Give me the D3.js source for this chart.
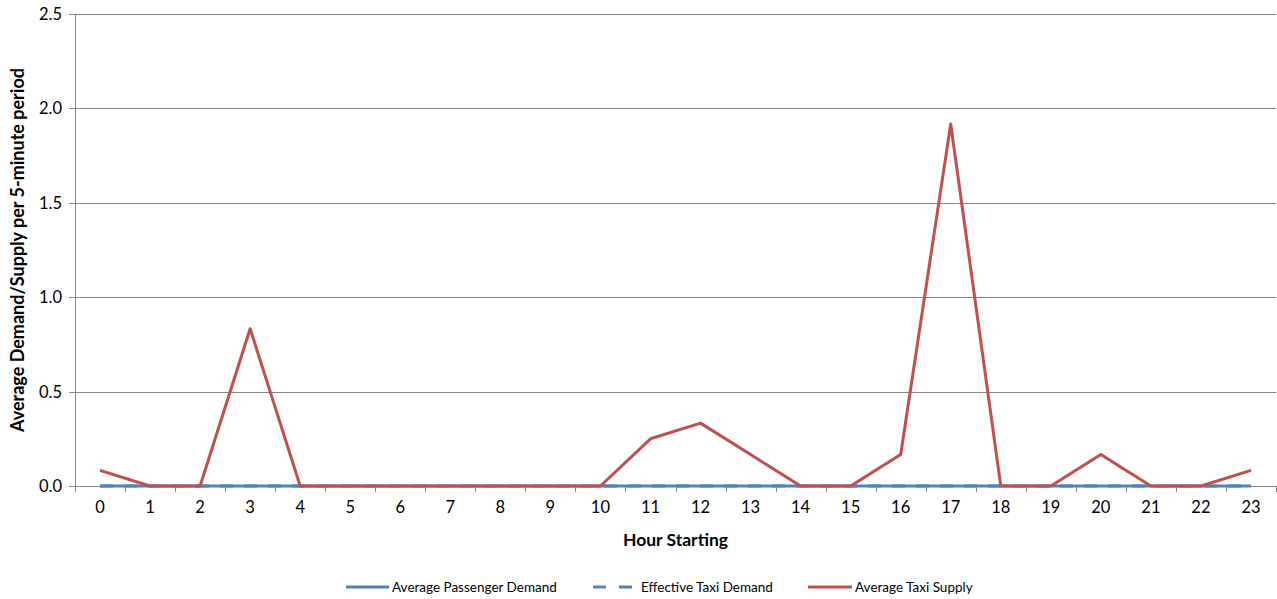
<!DOCTYPE html>
<html><head><meta charset="utf-8">
<script src="https://cdn.jsdelivr.net/npm/d3@7"></script>
<style>body{margin:0;background:#fff;}svg{display:block;font-family:Lato,"Open Sans",sans-serif;}</style>
</head><body><svg id="c" width="1277" height="599"></svg>
<script>
const hours = ["0","1","2","3","4","5","6","7","8","9","10","11","12","13","14","15","16","17","18","19","20","21","22","23"];
const passengerDemand = [0,0,0,0,0,0,0,0,0,0,0,0,0,0,0,0,0,0,0,0,0,0,0,0];
const effectiveDemand = [0,0,0,0,0,0,0,0,0,0,0,0,0,0,0,0,0,0,0,0,0,0,0,0];
const taxiSupply = [0.083,0,0,0.833,0,0,0,0,0,0,0,0.25,0.333,0.167,0,0,0.167,1.917,0,0,0.167,0,0,0.083];
const yTicks = [0,0.5,1.0,1.5,2.0,2.5];
const seriesNames = ["Average Passenger Demand","Effective Taxi Demand","Average Taxi Supply"];

const svg = d3.select("#c");
const L=75, R=1276, T=14, B=486;
const x = d3.scaleBand().domain(hours).range([L,R]);
const y = d3.scaleLinear().domain([0,2.5]).range([B,T]);
const grid="#868686";

// gridlines
svg.append("g").selectAll("line").data(yTicks).join("line")
  .attr("x1",L-6).attr("x2",R).attr("y1",d=>Math.round(y(d))+0.5).attr("y2",d=>Math.round(y(d))+0.5)
  .attr("stroke",grid).attr("stroke-width",1);
// y axis line
svg.append("line").attr("x1",L+0.5).attr("x2",L+0.5).attr("y1",T).attr("y2",B+5).attr("stroke",grid);
// y labels
svg.append("g").selectAll("text").data(yTicks).join("text")
  .attr("x",L-13).attr("y",d=>y(d)).attr("dy","0.36em").attr("text-anchor","end")
  .attr("font-size",16.5).attr("fill","#000").text(d=>d.toFixed(1));
// x ticks at boundaries
const bounds = hours.map(h=>x(h)).concat([R]);
svg.append("g").selectAll("line").data(bounds).join("line")
  .attr("x1",d=>Math.round(d)+0.5).attr("x2",d=>Math.round(d)+0.5).attr("y1",B).attr("y2",B+6)
  .attr("stroke",grid);
svg.append("g").selectAll("text").data(hours).join("text")
  .attr("x",d=>x(d)+x.bandwidth()/2).attr("y",B+27).attr("text-anchor","middle")
  .attr("font-size",16.5).attr("fill","#000").text(d=>d);
// titles
svg.append("text").attr("x",(L+R)/2).attr("y",546).attr("text-anchor","middle")
  .attr("font-size",17.5).attr("font-weight","bold").text("Hour Starting");
svg.append("text").attr("transform",`translate(24,250) rotate(-90)`).attr("text-anchor","middle")
  .attr("font-size",18).attr("font-weight","bold").text("Average Demand/Supply per 5-minute period");

const line = d3.line().x((d,i)=>x(hours[i])+x.bandwidth()/2).y(d=>y(d));
svg.append("path").datum(passengerDemand).attr("d",line).attr("fill","none").attr("stroke","#4F81BD").attr("stroke-width",3);
svg.append("path").datum(effectiveDemand).attr("d",line).attr("fill","none").attr("stroke","#4F81BD").attr("stroke-width",3).attr("stroke-dasharray","13,11");
svg.append("path").datum(taxiSupply).attr("d",line).attr("fill","none").attr("stroke","#C0504D").attr("stroke-width",3).attr("stroke-linejoin","round");

// legend
const leg = [
  {name:seriesNames[0],x1:346,x2:389,color:"#4F81BD",dash:null,tx:392},
  {name:seriesNames[1],x1:593,x2:632,color:"#4F81BD",dash:"13,13",tx:641},
  {name:seriesNames[2],x1:808,x2:852,color:"#C0504D",dash:null,tx:855}
];
const lg = svg.append("g");
leg.forEach(d=>{
  lg.append("line").attr("x1",d.x1).attr("x2",d.x2).attr("y1",587).attr("y2",587)
    .attr("stroke",d.color).attr("stroke-width",3).attr("stroke-dasharray",d.dash);
  lg.append("text").attr("x",d.tx).attr("y",587).attr("dy","0.35em").attr("font-size",13.5).text(d.name);
});
</script></body></html>
